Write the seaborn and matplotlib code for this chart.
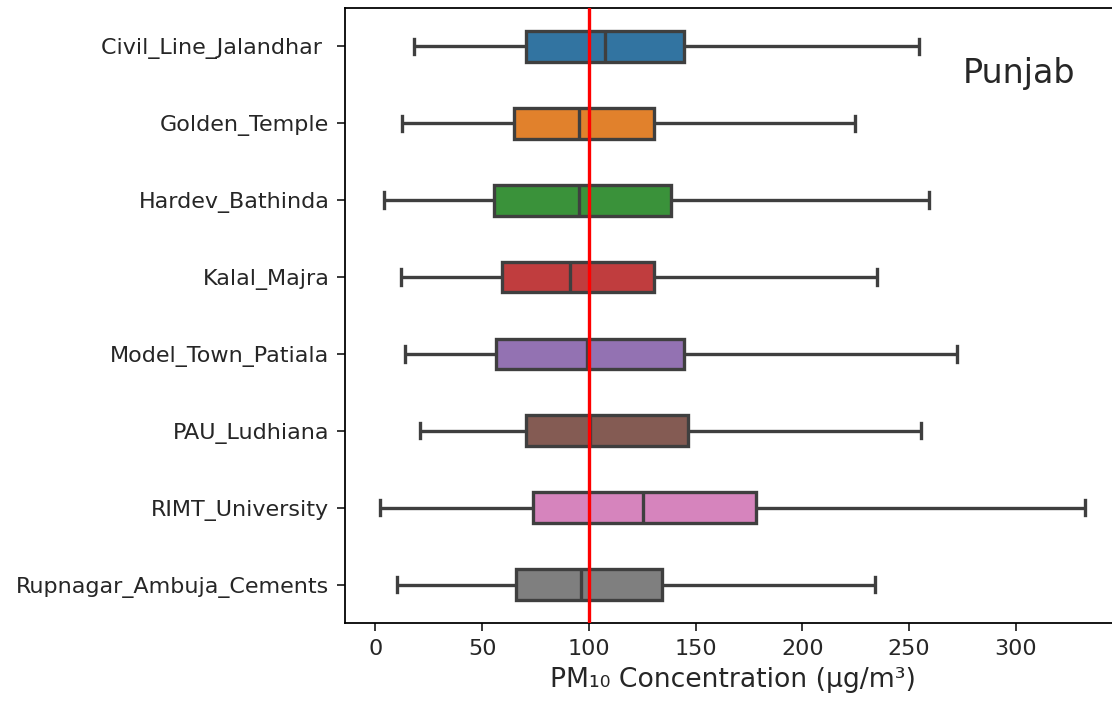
import pandas as pd
import matplotlib
matplotlib.use("Agg")
import matplotlib.pyplot as plt
import seaborn as sns

# station names (order as on the y axis)
stations = ["Civil_Line_Jalandhar ", "Golden_Temple", "Hardev_Bathinda", "Kalal_Majra",
            "Model_Town_Patiala", "PAU_Ludhiana", "RIMT_University", "Rupnagar_Ambuja_Cements"]

# five-number summaries (min, q1, median, q3, max)
lo  = [18.3, 12.7, 4.1, 11.9, 13.7, 21.1, 2.3, 10.0]
q1  = [70.6, 64.8, 55.8, 59.4, 56.5, 70.6, 73.7, 65.9]
med = [107.5, 95.4, 95.4, 91.4, 99.2, 100.7, 125.3, 96.1]
q3  = [144.5, 130.4, 138.7, 130.4, 144.5, 146.4, 178.1, 134.3]
hi  = [254.8, 224.8, 259.3, 234.9, 272.6, 255.5, 332.4, 234.2]

rows = []
for i, s in enumerate(stations):
    for v in (lo[i], q1[i], med[i], q3[i], hi[i]):
        rows.append({"Station": s, "PM10": v})
df = pd.DataFrame(rows)

# slightly soft dark text like the reference
plt.rcParams["text.color"] = "#262626"
plt.rcParams["axes.labelcolor"] = "#262626"
plt.rcParams["xtick.color"] = "#262626"
plt.rcParams["ytick.color"] = "#262626"

fig = plt.figure(figsize=(1112 / 160, 704 / 160), dpi=160)
ax = fig.add_axes([0.3103, 0.1151, 0.697, 0.8736])

sns.boxplot(data=df, x="PM10", y="Station", hue="Station", order=stations,
            palette="tab10", width=0.4, whis=(0, 100), showfliers=False,
            linecolor="#3f3f3f", linewidth=1.5, legend=False, ax=ax)

ax.axvline(100, color="red", linewidth=1.5, zorder=10)
ax.text(0.797, 0.878, "Punjab", transform=ax.transAxes, fontsize=15, va="baseline")

ax.set_xlabel("PM₁₀ Concentration (µg/m³)", fontsize=12)
ax.set_ylabel("")

fig.savefig("out.png", dpi=160)
